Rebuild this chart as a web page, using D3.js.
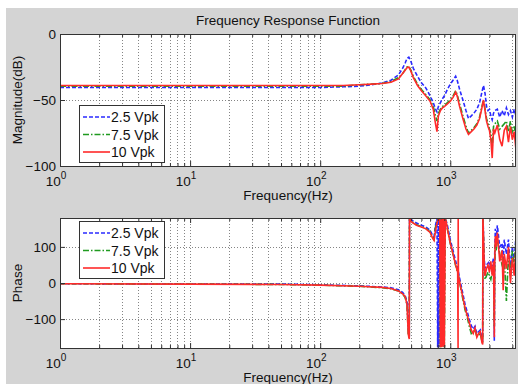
<!DOCTYPE html>
<html>
<head>
<meta charset="utf-8">
<script src="https://cdn.jsdelivr.net/npm/d3@7"></script>
<style>
  body { margin: 0; background: #fff; }
  svg { display: block; font-family: "Liberation Sans", Arial, sans-serif; }
</style>
</head>
<body>
<div id="chart"></div>
<script>
// series
var seriesNames = ["2.5 Vpk", "7.5 Vpk", "10 Vpk"];
var xTicks = [1, 10, 100, 1000];
var magTicks = [-100, -50, 0];
var phaseTicks = [-100, 0, 100];

// magnitude (dB)
var freqMag = [1, 2, 5, 10, 20, 50, 100, 150, 200, 250, 300, 350, 400, 430, 450, 465, 480, 495, 520, 560, 600, 650, 700, 740, 770, 790, 810, 840, 870, 900, 950, 1000, 1050, 1100, 1130, 1180, 1250, 1320, 1380, 1450, 1520, 1600, 1680, 1750, 1800, 1850, 1900, 1950, 2000, 2050, 2100, 2150, 2200, 2300, 2400, 2500, 2600, 2700, 2800, 2900, 3000, 3100, 3200];
var magBlue = [-40.5, -40.5, -40.5, -40.5, -40.5, -40.5, -40.5, -40, -39.5, -38.5, -37, -35, -31, -26, -22, -18.5, -17.5, -20, -26, -32, -37, -41, -47, -52, -57, -59, -55, -52, -49, -47, -42, -38, -35, -32, -35, -42, -50, -58, -64, -62, -60, -57, -52, -44, -39, -45, -55, -58, -57, -62, -65, -60, -58, -57, -63, -58, -62, -56, -61, -58, -63, -57, -62];
var magGreen = [-39.5, -39.5, -39.5, -39.5, -39.5, -39.5, -39.5, -39.5, -38.5, -38, -37.5, -36, -33, -30, -27, -25, -24.5, -27, -32, -38, -42, -46, -50, -55, -62, -66, -60, -57, -55, -54, -52, -50, -47, -43, -46, -53, -62, -70, -75, -73, -71, -68, -63, -55, -50, -57, -64, -68, -72, -75, -85, -70, -68, -66, -72, -70, -68, -66, -74, -66, -75, -70, -78];
var magRed = [-39, -39, -39, -39, -39, -39, -39, -39, -38.5, -38, -37.5, -36.5, -34, -30, -27.5, -25.5, -25, -27.5, -33, -39, -43, -47, -51, -57, -68, -74, -62, -58, -56, -55, -53, -51, -48, -44, -47, -55, -64, -72, -76, -74, -72, -69, -64, -56, -50, -58, -66, -70, -73, -80, -94, -72, -75, -69, -80, -85, -73, -70, -82, -70, -80, -74, -88];

// phase (deg)
var freqPhase = [1, 10, 50, 100, 200, 300, 350, 400, 430, 450, 465, 475, 480, 484, 486, 500, 550, 600, 650, 700, 730, 750, 770, 790, 800, 810, 820, 830, 840, 850, 860, 870, 880, 890, 900, 915, 930, 950, 1000, 1050, 1100, 1140, 1148, 1150, 1155, 1200, 1250, 1300, 1350, 1400, 1450, 1500, 1550, 1600, 1650, 1700, 1750, 1775, 1780, 1790, 1820, 1850, 1900, 1950, 2000, 2050, 2100, 2150, 2180, 2195, 2220, 2250, 2300, 2400, 2500, 2550, 2600, 2700, 2800, 2900, 3000, 3100, 3200];
var phaseBlue = [-2, -3, -3, -5, -8, -11, -13, -19, -26, -35, -52, -120, -135, -150, 180, 175, 166, 160, 155, 146, 132, 128, 160, 178, -178, 176, -178, 178, 160, -176, 178, 178, 176, 177, 178, 176, 172, 160, 120, 90, 60, 40, 35, 32, 30, 0, -30, -60, -80, -100, -118, -128, -120, -140, -135, -130, -155, -160, 180, 165, 70, 40, 50, 55, 60, 40, 50, 70, -160, 80, 150, 120, 160, 100, 110, 60, 120, 80, 120, 40, 100, 60, 130];
var phaseGreen = [-2, -3, -4, -6, -9, -13, -16, -22, -30, -40, -60, -140, -148, -152, 180, 171, 161, 156, 151, 141, 126, 120, 155, 170, 174, 177, 178, 176, -178, 176, -176, 178, -176, 178, -178, 177, 169, 150, 110, 80, 48, 28, 25, 22, 20, -12, -45, -75, -95, -120, -140, -135, -130, -148, -145, -140, -160, -165, 180, 160, 55, 10, 20, 30, 20, 10, 30, 40, -120, 40, 110, 90, 120, 80, 50, 40, 70, -50, 80, 20, 90, 40, 120];
var phaseRed = [-2, -3, -4, -6, -9, -12, -15, -22, -30, -38, -60, -140, -150, -155, 180, 170, 160, 155, 150, 140, 125, 118, 145, 165, 172, 176, 178, 175, -178, 176, -178, 178, -176, 178, -178, 178, 170, 150, 110, 80, 50, 30, -180, 180, 20, -10, -40, -70, -90, -110, -130, -140, -125, -150, -140, -135, -165, -170, 180, 160, 60, 20, 40, 50, 30, 60, 20, 60, -150, 60, 130, 100, 140, 60, 90, -20, 80, 40, 100, 0, 70, 20, 100];

var colors = ["#2a2aff", "#1f9a1f", "#ff2a2a"];
var dashes = ["4,2", "6,2,1.5,2", null];
var fs = 13.5;

var W = 518, H = 384;
var svg = d3.select("#chart").append("svg").attr("width", W).attr("height", H);

svg.append("rect").attr("x", 6).attr("y", 8).attr("width", W - 6).attr("height", H - 8).attr("fill", "#d4d4d4");

var x = d3.scaleLog().domain([1, 3200]).range([60, 516]);

var minorTicks = [];
for (var d = 1; d <= 1000; d *= 10) {
  for (var k = 2; k <= 9; k++) {
    if (d * k <= 3200) minorTicks.push(d * k);
  }
}

svg.append("text")
  .attr("x", 288).attr("y", 25)
  .attr("text-anchor", "middle")
  .attr("font-size", fs).attr("fill", "#111")
  .text("Frequency Response Function");

function panel(y, yTicks, freqs, vals, ylabel, legendTop, id) {
  var x0 = x.range()[0], x1 = x.range()[1];
  var y0 = y.range()[0], y1 = y.range()[1];
  var g = svg.append("g");

  g.append("rect").attr("x", x0).attr("y", y1).attr("width", x1 - x0).attr("height", y0 - y1).attr("fill", "#fff");

  // grid
  g.selectAll(".vg").data(xTicks.concat(minorTicks)).enter().append("line")
    .attr("x1", function (d) { return Math.round(x(d)) + 0.5; })
    .attr("x2", function (d) { return Math.round(x(d)) + 0.5; })
    .attr("y1", y1).attr("y2", y0)
    .attr("stroke", "#666").attr("stroke-width", 0.8).attr("stroke-dasharray", "1,2");
  g.selectAll(".hg").data(yTicks).enter().append("line")
    .attr("x1", x0).attr("x2", x1)
    .attr("y1", function (d) { return Math.round(y(d)) + 0.5; })
    .attr("y2", function (d) { return Math.round(y(d)) + 0.5; })
    .attr("stroke", "#666").attr("stroke-width", 0.8).attr("stroke-dasharray", "1,2");

  // lines
  svg.append("clipPath").attr("id", id).append("rect")
    .attr("x", x0).attr("y", y1).attr("width", x1 - x0).attr("height", y0 - y1);
  var line = d3.line()
    .x(function (d) { return x(d[0]); })
    .y(function (d) { return y(d[1]); });
  vals.forEach(function (v, i) {
    g.append("path")
      .datum(freqs.map(function (f, j) { return [f, v[j]]; }))
      .attr("clip-path", "url(#" + id + ")")
      .attr("fill", "none")
      .attr("stroke", colors[i])
      .attr("stroke-width", 1.6)
      .attr("stroke-dasharray", dashes[i])
      .attr("d", line);
  });

  // ticks inside the box
  var axB = g.append("g").attr("transform", "translate(0," + y0 + ")")
    .call(d3.axisBottom(x).tickValues(xTicks).tickSizeInner(-5).tickSizeOuter(0).tickFormat(""));
  var axBm = g.append("g").attr("transform", "translate(0," + y0 + ")")
    .call(d3.axisBottom(x).tickValues(minorTicks).tickSizeInner(-3).tickSizeOuter(0).tickFormat(""));
  var axT = g.append("g").attr("transform", "translate(0," + y1 + ")")
    .call(d3.axisTop(x).tickValues(xTicks).tickSizeInner(-5).tickSizeOuter(0).tickFormat(""));
  var axTm = g.append("g").attr("transform", "translate(0," + y1 + ")")
    .call(d3.axisTop(x).tickValues(minorTicks).tickSizeInner(-3).tickSizeOuter(0).tickFormat(""));
  var axL = g.append("g").attr("transform", "translate(" + x0 + ",0)")
    .call(d3.axisLeft(y).tickValues(yTicks).tickSizeInner(-5).tickSizeOuter(0).tickPadding(4));
  var axR = g.append("g").attr("transform", "translate(" + x1 + ",0)")
    .call(d3.axisRight(y).tickValues(yTicks).tickSizeInner(-5).tickSizeOuter(0).tickFormat(""));
  [axB, axBm, axT, axTm, axL, axR].forEach(function (a) {
    a.select(".domain").remove();
    a.selectAll("line").attr("stroke", "#333");
  });
  axL.selectAll("text").attr("font-size", fs).attr("font-family", "Liberation Sans, Arial, sans-serif").attr("fill", "#111");

  g.append("rect").attr("x", x0 + 0.5).attr("y", y1 + 0.5).attr("width", x1 - x0 - 1).attr("height", y0 - y1)
    .attr("fill", "none").attr("stroke", "#333");

  // x tick labels 10^n
  var lab = g.selectAll(".xl").data(xTicks).enter().append("text")
    .attr("x", function (d) { return x(d) - 4; })
    .attr("y", y0 + 20)
    .attr("text-anchor", "middle")
    .attr("font-size", fs)
    .attr("fill", "#111");
  lab.append("tspan").text("10");
  lab.append("tspan").attr("dy", -7).attr("font-size", 10).text(function (d) { return Math.round(Math.log10(d)); });

  g.append("text")
    .attr("x", (x0 + x1) / 2).attr("y", y0 + 34)
    .attr("text-anchor", "middle").attr("font-size", fs).attr("fill", "#111")
    .text("Frequency(Hz)");

  g.append("text")
    .attr("transform", "translate(22," + (y0 + y1) / 2 + ") rotate(-90)")
    .attr("text-anchor", "middle").attr("font-size", fs).attr("fill", "#111")
    .text(ylabel);

  // legend
  var lg = g.append("g").attr("transform", "translate(79," + legendTop + ")");
  lg.append("rect").attr("x", 0.5).attr("y", 0.5).attr("width", 85).attr("height", 57)
    .attr("fill", "#fff").attr("stroke", "#333");
  seriesNames.forEach(function (n, i) {
    var yy = 12 + i * 17.5;
    lg.append("line").attr("x1", 4).attr("x2", 31).attr("y1", yy).attr("y2", yy)
      .attr("stroke", colors[i]).attr("stroke-width", 1.6).attr("stroke-dasharray", dashes[i]);
    lg.append("text").attr("x", 32).attr("y", yy + 5).attr("font-size", 14).attr("fill", "#111").text(n);
  });
}

var yMag = d3.scaleLinear().domain([-100, 0]).range([166, 34]);
var yPhase = d3.scaleLinear().domain([-180, 180]).range([348, 218]);

panel(yMag, magTicks, freqMag, [magBlue, magGreen, magRed], "Magnitude(dB)", 105, "clipMag");
panel(yPhase, phaseTicks, freqPhase, [phaseBlue, phaseGreen, phaseRed], "Phase", 221, "clipPhase");
</script>
</body>
</html>
